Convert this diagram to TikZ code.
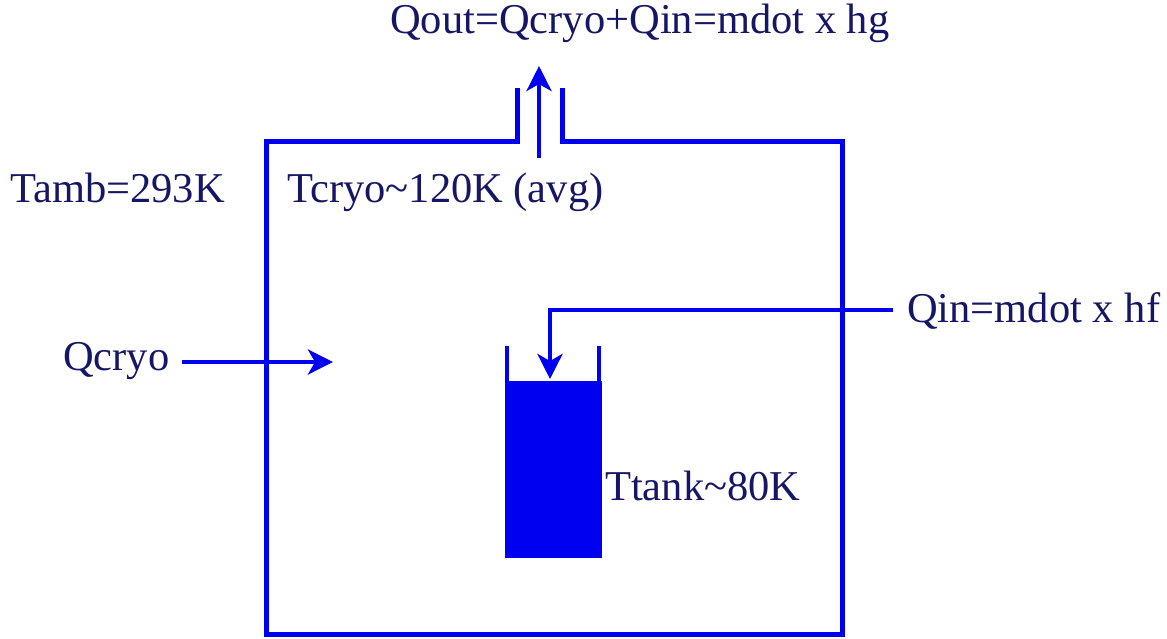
\documentclass[tikz,border=0pt]{standalone}
\usepackage{fontspec}
\setmainfont{Liberation Serif}
\usetikzlibrary{arrows.meta}
\definecolor{wall}{RGB}{0,0,240}
\definecolor{ink}{RGB}{22,22,100}
\begin{document}
\begin{tikzpicture}[x=1pt,y=-1pt,
  wallline/.style={draw=wall,line width=5pt},
  flow/.style={draw=wall,line width=4.5pt,-{Stealth[length=25pt,width=25pt,inset=7pt]}},
  lbl/.style={text=ink,inner sep=0pt,anchor=base west,font=\fontsize{42.5}{50}\selectfont}]
\useasboundingbox (0,0) rectangle (1167,638);
% chamber
\draw[wallline,line join=miter] (517,88) -- (517,141) -- (266,141) -- (266,634) -- (842,634) -- (842,141) -- (562,141) -- (562,88);
% tank
\fill[wall] (504.5,381) rectangle (601.5,558);
\draw[draw=wall,line width=4pt] (507,346) -- (507,382);
\draw[draw=wall,line width=4pt] (599,346) -- (599,382);
% labels
\node[lbl] (qout) at (390,33) {Qout=Qcryo+Qin=mdot x hg};
\node[lbl] (tamb) at (10,202) {Tamb=293K};
\node[lbl] (tcryo) at (287,202) {Tcryo\textasciitilde120K (avg)};
\node[lbl] (qcryo) at (63,370) {Qcryo};
\node[lbl] (qin) at (907,322) {Qin=mdot x hf};
\node[lbl] (ttank) at (605,500) {Ttank\textasciitilde80K};
% flows
\coordinate (outS) at (539,158);
\coordinate (outE) at (539,66);
\coordinate (cryoS) at (182,362);
\coordinate (cryoE) at (333,362);
\coordinate (inS) at (893,310);
\coordinate (inC) at (550,310);
\coordinate (inE) at (550,379);
\draw[flow] (outS) -- (outE);
\draw[flow] (cryoS) -- (cryoE);
\draw[flow,line join=miter] (inS) -- (inC) -- (inE);
\end{tikzpicture}
\end{document}
